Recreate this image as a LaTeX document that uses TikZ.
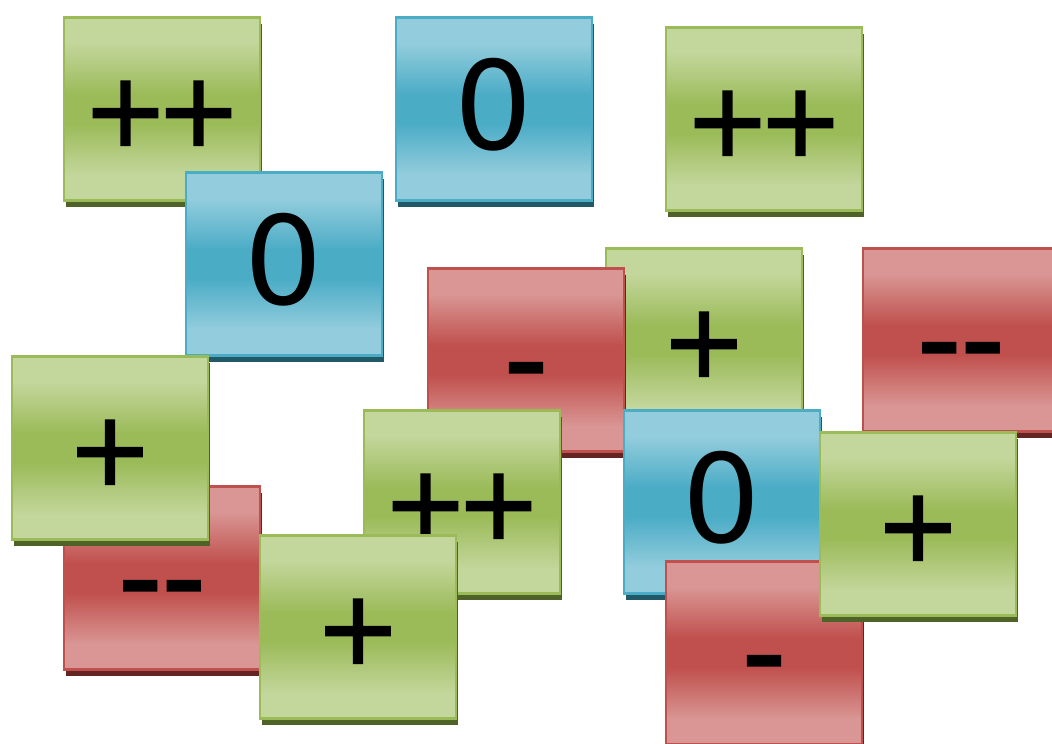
\documentclass[tikz,border=0pt]{standalone}
\usepackage{fontspec}
\newfontfamily\tilefont{DejaVu Sans}
\newfontfamily\plusfont{DejaVu Sans}[FakeBold=2]
\newfontfamily\dashfont{DejaVu Sans}[FakeBold=1.5]
\usetikzlibrary{shadows}
\definecolor{gl}{HTML}{C3D69B}
\definecolor{gd}{HTML}{9BBB59}
\definecolor{gs}{HTML}{4F6228}
\definecolor{bl}{HTML}{93CDDD}
\definecolor{bd}{HTML}{4BACC6}
\definecolor{bs}{HTML}{215968}
\definecolor{rl}{HTML}{D99694}
\definecolor{rd}{HTML}{C0504D}
\definecolor{rs}{HTML}{632523}
\pgfdeclareverticalshading{gshade}{100bp}{color(0bp)=(gl); color(25bp)=(gl); color(32bp)=(gl); color(46bp)=(gd); color(54bp)=(gd); color(68bp)=(gl); color(75bp)=(gl); color(100bp)=(gl)}
\pgfdeclareverticalshading{bshade}{100bp}{color(0bp)=(bl); color(25bp)=(bl); color(32bp)=(bl); color(46bp)=(bd); color(54bp)=(bd); color(68bp)=(bl); color(75bp)=(bl); color(100bp)=(bl)}
\pgfdeclareverticalshading{rshade}{100bp}{color(0bp)=(rl); color(25bp)=(rl); color(32bp)=(rl); color(46bp)=(rd); color(54bp)=(rd); color(68bp)=(rl); color(75bp)=(rl); color(100bp)=(rl)}
\tikzset{
  tile/.style={rectangle, minimum width=196pt, minimum height=183pt, inner sep=0pt,
    line width=2.5pt, text depth=0pt, text height=81pt,
    font=\tilefont\fontsize{123}{123}\selectfont},
  greentile/.style={tile, draw=gd, shade, shading=gshade,
    general shadow={shadow xshift=2pt, shadow yshift=-6pt, fill=gs}},
  bluetile/.style={tile, draw=bd, shade, shading=bshade,
    general shadow={shadow xshift=2pt, shadow yshift=-6pt, fill=bs}},
  redtile/.style={tile, draw=rd, shade, shading=rshade,
    general shadow={shadow xshift=2pt, shadow yshift=-6pt, fill=rs}},
  plustext/.style={text height=72pt, font=\plusfont\fontsize{101.5}{102}\selectfont},
  dashtext/.style={text height=83pt, font=\dashfont\fontsize{123}{123}\selectfont}
}
\begin{document}
\begin{tikzpicture}[x=1pt, y=-1pt]
\useasboundingbox (0,0) rectangle (1052,744);
\node[greentile, plustext] (t1) at (162,109) {+\kern-12pt+};
\node[bluetile] (t2) at (494,109) {0};
\node[greentile, plustext] (t3) at (764,119) {+\kern-12pt+};
\node[bluetile] (t4) at (284,264) {0};
\node[greentile, plustext] (t5) at (704,340) {+};
\node[redtile, dashtext] (t6) at (526,360) {-};
\node[redtile, dashtext] (t7) at (961,340) {-\kern-1pt-};
\node[redtile, dashtext] (t9) at (162,578) {-\kern-1pt-};
\node[greentile, plustext] (t8) at (110,448) {+};
\node[greentile, plustext] (t10) at (462,502) {+\kern-12pt+};
\node[bluetile] (t11) at (722,502) {0};
\node[greentile, plustext] (t13) at (358,627) {+};
\node[redtile, dashtext] (t14) at (764,653) {-};
\node[greentile, plustext] (t12) at (918,524) {+};
\end{tikzpicture}
\end{document}
